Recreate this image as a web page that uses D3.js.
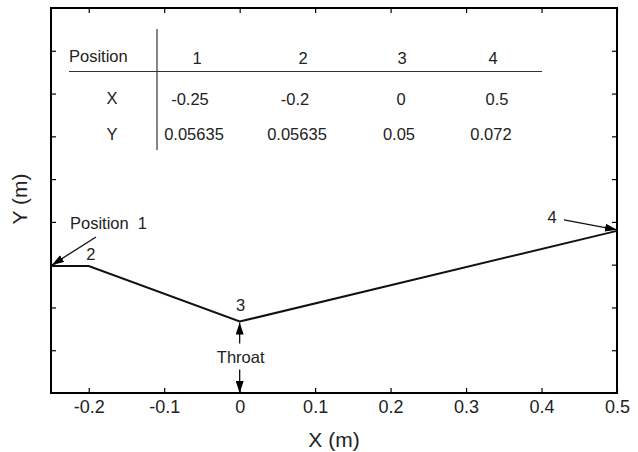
<!DOCTYPE html>
<html>
<head>
<meta charset="utf-8">
<script src="https://cdn.jsdelivr.net/npm/d3@7"></script>
<style>
  body { margin: 0; background: #fff; }
  svg { display: block; font-family: "Liberation Sans", Arial, sans-serif; }
</style>
</head>
<body>
<div id="chart"></div>
<script>
// nozzle profile as drawn (y axis carries no values, read in tick units)
var positions = [1, 2, 3, 4];
var profileX = [-0.25, -0.2, 0, 0.5];
var profileY = [2.97, 2.97, 1.67, 3.79];

// table printed inside the plot
var tableX = ["-0.25", "-0.2", "0", "0.5"];
var tableY = ["0.05635", "0.05635", "0.05", "0.072"];

var xTicks = [-0.2, -0.1, 0, 0.1, 0.2, 0.3, 0.4, 0.5];
var yTicks = [1, 2, 3, 4, 5, 6, 7, 8];

var W = 638, H = 452,
    margin = {top: 8, right: 21, bottom: 59, left: 51},
    width = W - margin.left - margin.right,
    height = H - margin.top - margin.bottom;

var x = d3.scaleLinear().domain([-0.25, 0.5]).range([0, width]);
var y = d3.scaleLinear().domain([0, 9]).range([height, 0]);

var svg = d3.select("#chart").append("svg")
    .attr("width", W)
    .attr("height", H);

var defs = svg.append("defs");
defs.append("marker")
    .attr("id", "head")
    .attr("markerUnits", "userSpaceOnUse")
    .attr("viewBox", "0 0 12 8")
    .attr("refX", 12).attr("refY", 4)
    .attr("markerWidth", 12).attr("markerHeight", 8)
    .attr("orient", "auto")
  .append("path")
    .attr("d", "M0,0L12,4L0,8Z")
    .attr("fill", "#000");

var g = svg.append("g")
    .attr("transform", "translate(" + margin.left + "," + margin.top + ")");

var fmt = function(d) { return d === 0 ? "0" : d3.format(".1f")(d).replace("\u2212", "-"); };

// axes: ticks point inward, only bottom is labelled
var xAxis = g.append("g")
    .attr("transform", "translate(0," + height + ")")
    .call(d3.axisBottom(x).tickValues(xTicks).tickSizeInner(-5).tickSizeOuter(0).tickPadding(7)
        .tickFormat(fmt));
g.append("g")
    .call(d3.axisTop(x).tickValues(xTicks).tickSizeInner(-5).tickSizeOuter(0).tickFormat(""));
g.append("g")
    .call(d3.axisLeft(y).tickValues(yTicks).tickSizeInner(-5).tickSizeOuter(0).tickFormat(""));
g.append("g")
    .attr("transform", "translate(" + width + ",0)")
    .call(d3.axisRight(y).tickValues(yTicks).tickSizeInner(-5).tickSizeOuter(0).tickFormat(""));

g.selectAll(".domain").remove();
g.selectAll(".tick line").attr("stroke", "#000").attr("stroke-width", 1.2);
xAxis.selectAll("text")
    .attr("font-size", 18)
    .attr("fill", "#222")
    .style("font-family", "Liberation Sans, Arial, sans-serif");

g.append("rect")
    .attr("width", width)
    .attr("height", height)
    .attr("fill", "none")
    .attr("stroke", "#000")
    .attr("stroke-width", 2);

// axis titles
svg.append("text")
    .attr("x", margin.left + width / 2)
    .attr("y", 447)
    .attr("text-anchor", "middle")
    .attr("font-size", 21)
    .attr("fill", "#222")
    .text("X (m)");

svg.append("text")
    .attr("transform", "translate(27," + (margin.top + 191) + ") rotate(-90)")
    .attr("text-anchor", "middle")
    .attr("font-size", 21)
    .attr("fill", "#222")
    .text("Y (m)");

// profile
var pts = profileX.map(function(d, i) { return [x(d), y(profileY[i])]; });
g.append("path")
    .datum(pts)
    .attr("d", d3.line())
    .attr("fill", "none")
    .attr("stroke", "#111")
    .attr("stroke-width", 2);

// point labels and arrows
function arrow(x1, y1, x2, y2) {
  g.append("line")
      .attr("x1", x1).attr("y1", y1)
      .attr("x2", x2).attr("y2", y2)
      .attr("stroke", "#111")
      .attr("stroke-width", 1.3)
      .attr("marker-end", "url(#head)");
}
function label(tx, ty, txt, anchor) {
  g.append("text")
      .attr("x", tx).attr("y", ty)
      .attr("text-anchor", anchor || "middle")
      .attr("font-size", 16.5)
      .attr("fill", "#222")
      .style("white-space", "pre")
      .text(txt);
}

var p = pts;
label(p[0][0] + 19, p[0][1] - 37, "Position  " + positions[0], "start");
arrow(p[0][0] + 45, p[0][1] - 29, p[0][0] + 1, p[0][1] - 1);
label(p[1][0] + 2, p[1][1] - 6, positions[1]);
label(p[2][0] + 1, p[2][1] - 11, positions[2]);
arrow(p[2][0], p[2][1] + 22, p[2][0], p[2][1] + 1);
label(p[2][0] + 1, p[2][1] + 41, "Throat");
arrow(p[2][0], p[2][1] + 48, p[2][0], height);
label(p[3][0] - 65, p[3][1] - 8, positions[3]);
arrow(p[3][0] - 53, p[3][1] - 11, p[3][0], p[3][1] - 1);

// table
var tbl = svg.append("g").attr("fill", "#222").attr("font-size", 16.5);
var colX = [197, 303, 402, 493];
var xCol = [190, 295, 401, 497];
var yCol = [194, 297, 399, 491];

tbl.append("text").attr("x", 69).attr("y", 62).text("Position");
tbl.append("text").attr("x", 112).attr("y", 104).attr("text-anchor", "middle").text("X");
tbl.append("text").attr("x", 112).attr("y", 140).attr("text-anchor", "middle").text("Y");

tbl.selectAll(".hd").data(positions).enter().append("text")
    .attr("x", function(d, i) { return colX[i]; })
    .attr("y", 64)
    .attr("text-anchor", "middle")
    .text(function(d) { return d; });
tbl.selectAll(".rx").data(tableX).enter().append("text")
    .attr("x", function(d, i) { return xCol[i]; })
    .attr("y", 105)
    .attr("text-anchor", "middle")
    .text(function(d) { return d; });
tbl.selectAll(".ry").data(tableY).enter().append("text")
    .attr("x", function(d, i) { return yCol[i]; })
    .attr("y", 140)
    .attr("text-anchor", "middle")
    .text(function(d) { return d; });

tbl.append("line")
    .attr("x1", 69).attr("x2", 542)
    .attr("y1", 71.5).attr("y2", 71.5)
    .attr("stroke", "#333").attr("stroke-width", 1.2);
tbl.append("line")
    .attr("x1", 157).attr("x2", 157)
    .attr("y1", 29).attr("y2", 150)
    .attr("stroke", "#333").attr("stroke-width", 1.2);
</script>
</body>
</html>
